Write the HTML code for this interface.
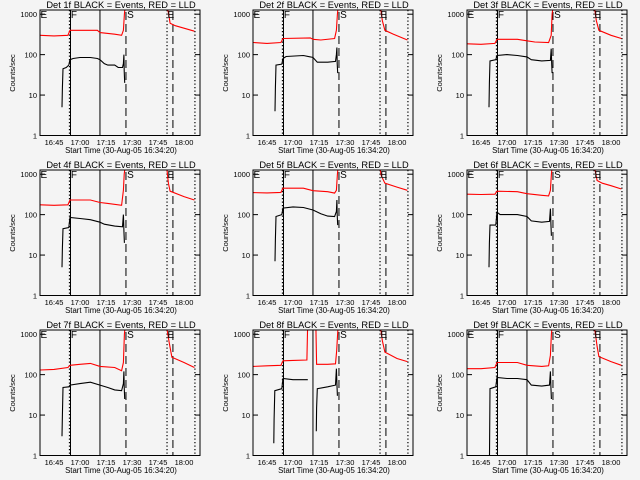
<!DOCTYPE html>
<html><head><meta charset="utf-8"><style>
html,body{margin:0;padding:0;background:#f4f4f4;}
svg{display:block;font-family:"Liberation Sans",sans-serif;}
</style></head><body>
<svg id="chart" width="640" height="480" viewBox="0 0 640 480"></svg>
<script>
// Time in minutes after 16:00; values in counts/sec
const xTickValues = [45, 60, 75, 90, 105, 120];
const xTickLabels = ["16:45", "17:00", "17:15", "17:30", "17:45", "18:00"];
const yTickValues = [1, 10, 100, 1000];
const yTickLabels = ["1", "10", "100", "1000"];
const panelTitles = ["Det 1f","Det 2f","Det 3f","Det 4f","Det 5f","Det 6f","Det 7f","Det 8f","Det 9f"];
const dottedTimes = [53.9, 110.2, 126.3];
const solidTimes = [54.5, 71.5];
const dashedTimes = [86.5, 113.6];
const markerLetters = ["E", "F", "S", "E"];
const markerTimes = [37.2, 54.7, 87.2, 110.5];

const red1a=[[37,300],[45,290],[53,300],[54.2,400],[70,400],[71.5,350],[80,320],[84,300],[85,400],[85.6,1000],[86,1500]];
const red1b=[[110.2,1500],[111,1100],[112,600],[115,520],[120,450],[126,380]];
const blk1=[[49.6,5],[49.8,15],[50.2,45],[52,48],[53.5,55],[54.2,75],[56,80],[60,85],[66,85],[70,80],[71.5,75],[74,60],[76,55],[80,55],[82,48],[84.5,48],[85,60],[85.3,100],[85.5,40],[85.8,20]];
const red2a=[[37,200],[45,190],[53,200],[54.2,250],[70,260],[71.5,240],[76,230],[84,250],[85,400],[85.6,1000],[86,1500]];
const red2b=[[110.5,1500],[111.5,700],[113,400],[118,320],[126,230]];
const blk2=[[49.6,4],[49.8,15],[50.2,55],[53.5,58],[54.2,80],[56,90],[66,95],[70,88],[71.5,85],[74,65],[80,65],[84.5,68],[85,100],[85.3,150],[85.5,60],[85.8,35]];
const red3a=[[37,185],[45,180],[53,190],[54.2,240],[66,240],[71.5,220],[76,205],[84,200],[85.5,300],[86,1000],[86.5,1500]];
const red3b=[[110.5,1500],[111.5,700],[113,400],[120,300],[126,250]];
const blk3=[[49.6,5],[49.8,20],[50.2,70],[53.5,75],[54.2,95],[60,100],[66,95],[71.5,88],[74,75],[80,70],[85,72],[85.5,140],[85.8,60],[86,35]];
const red4a=[[37,175],[45,170],[53,175],[54.2,230],[66,230],[71.5,200],[76,190],[84,170],[85,400],[85.5,1000],[86,1500]];
const red4b=[[110,1500],[111,600],[112,380],[120,280],[126,230]];
const blk4=[[49.6,5],[49.8,15],[50.2,45],[53.5,48],[54.2,85],[60,80],[66,75],[71.5,65],[74,58],[80,52],[84.5,50],[85,100],[85.3,40],[85.6,20]];
const red5a=[[37,350],[45,345],[53,355],[54.2,450],[66,450],[71.5,390],[80,370],[84,340],[85,400],[85.6,1000],[86,1500]];
const red5b=[[110,1500],[111,900],[113,600],[120,480],[126,400]];
const blk5=[[49.6,7],[49.8,25],[50.2,90],[53.5,100],[54.2,145],[60,155],[66,150],[71.5,130],[76,105],[80,92],[84,90],[85,120],[85.3,230],[85.5,100],[85.8,55]];
const red6a=[[37,320],[45,315],[53,320],[54.2,380],[66,370],[71.5,330],[80,300],[84,290],[85,400],[85.6,1000],[86,1500]];
const red6b=[[110.5,1500],[112,700],[115,600],[120,520],[126,430]];
const blk6=[[49.6,5],[49.8,20],[50.2,55],[53.5,55],[54.2,115],[56,100],[66,100],[71.5,90],[74,70],[80,65],[84.5,68],[85,140],[85.3,60],[85.6,30]];
const red7a=[[37,130],[45,135],[53,150],[54.2,170],[60,180],[66,190],[71.5,160],[80,150],[84,125],[85,200],[85.6,1000],[86,1500]];
const red7b=[[110,1500],[111.5,600],[113,270],[120,200],[126,150]];
const blk7=[[49.6,3],[49.8,10],[50.2,48],[53.5,50],[54.2,55],[60,60],[66,65],[71.5,55],[76,48],[80,42],[84,40],[85,60],[85.3,120],[85.5,50],[85.8,25]];
const red8a=[[37,160],[45,165],[53,170],[54.2,220],[60,225],[68,230],[68.4,1500],[73.2,1500],[73.6,180],[80,180],[84.5,185],[85.2,400],[85.7,1000],[86,1500]];
const red8b=[[110.5,1500],[111.5,700],[113,360],[120,250],[126,210]];
const blk8a=[[48.9,2],[49.1,8],[49.5,40],[53.5,45],[54.2,80],[60,75],[68.5,75]];
const blk8b=[[73.4,4],[73.6,15],[74,45],[80,50],[84.5,55],[85,140],[85.3,60],[85.6,30]];
const red9a=[[37,140],[45,140],[53,150],[54.2,200],[66,200],[71.5,170],[80,160],[84,165],[85,300],[85.6,1000],[86,1500]];
const red9b=[[110.5,1500],[112,500],[113,280],[120,210],[126,170]];
const blk9=[[49.6,1],[49.9,1],[50.2,45],[53.5,50],[54.2,85],[60,80],[66,80],[71.5,75],[74,55],[80,52],[84.5,55],[85,120],[85.3,50],[85.6,25]];

const redSeries=[[red1a,red1b],[red2a,red2b],[red3a,red3b],[red4a,red4b],[red5a,red5b],[red6a,red6b],[red7a,red7b],[red8a,red8b],[red9a,red9b]];
const blackSeries=[[blk1],[blk2],[blk3],[blk4],[blk5],[blk6],[blk7],[blk8a,blk8b],[blk9]];

const NS="http://www.w3.org/2000/svg";
const svg=document.getElementById('chart');
const colX=[0,213,427], rowY=[0,160,320];
const bx0=40,bx1=200,by0=10,by1=135.5;
const tMin=36.9, tMax=36.9+160/1.733;
const yTop=1270;
function mk(tag,attrs,parent){const e=document.createElementNS(NS,tag);for(const k in attrs)e.setAttribute(k,attrs[k]);parent.appendChild(e);return e;}

for(let p=0;p<9;p++){
  const ox=colX[p%3], oy=rowY[Math.floor(p/3)];
  const xs=t=>ox+bx0+(t-tMin)/(tMax-tMin)*(bx1-bx0);
  const ys=v=>oy+by1-Math.log10(v)/Math.log10(yTop)*(by1-by0);
  const g=mk('g',{},svg);
  
  
  const cid='clip'+p;
  const cp=mk('clipPath',{id:cid},g);
  mk('rect',{x:ox+bx0,y:oy+by0,width:bx1-bx0,height:by1-by0},cp);
  const title=mk('text',{x:ox+121,y:oy+8,'text-anchor':'middle','font-size':'9.3'},g);
  title.textContent=panelTitles[p]+" BLACK = Events, RED = LLD";
  
  
  yTickValues.forEach((v,i)=>{
    const y=ys(v);
    const tl=mk('text',{x:ox+bx0-3,y:y+3,'text-anchor':'end','font-size':'7.5'},g);
    tl.textContent=yTickLabels[i];
    
    
    mk('line',{x1:ox+bx0,x2:ox+bx0+5,y1:y,y2:y,stroke:'#000','stroke-width':1},g);
    mk('line',{x1:ox+bx1-5,x2:ox+bx1,y1:y,y2:y,stroke:'#000','stroke-width':1},g);
  });
  const yt=mk('text',{x:0,y:0,'text-anchor':'middle','font-size':'7.5',transform:`translate(${ox+15},${oy+73}) rotate(-90)`},g);
  yt.textContent="Counts/sec";
  
  
  xTickValues.forEach((v,i)=>{
    const tl=mk('text',{x:xs(v),y:oy+145,'text-anchor':'middle','font-size':'7.5'},g);
    tl.textContent=xTickLabels[i];
    
    
  });
  const xt=mk('text',{x:ox+121,y:oy+153,'text-anchor':'middle','font-size':'7.8'},g);
  xt.textContent="Start Time (30-Aug-05 16:34:20)";
  
  
  const cg=mk('g',{'clip-path':`url(#${cid})`},g);
  dottedTimes.forEach(t=>{const l=mk('line',{x1:xs(t),x2:xs(t),y1:oy+by0,y2:oy+by1,stroke:'#000','stroke-width':1.2,'stroke-dasharray':'1.2 2.3'},cg);
    });
  solidTimes.forEach(t=>{const l=mk('line',{x1:xs(t),x2:xs(t),y1:oy+by0,y2:oy+by1,stroke:'#000','stroke-width':1},cg);
    });
  dashedTimes.forEach(t=>{const l=mk('line',{x1:xs(t),x2:xs(t),y1:oy+by0,y2:oy+by1,stroke:'#000','stroke-width':1,'stroke-dasharray':'8 4','stroke-dashoffset':'-2'},cg);
    });
  markerLetters.forEach((s,i)=>{const tx=mk('text',{x:xs(markerTimes[i]),y:oy+by0+8,'font-size':'10'},g);tx.textContent=s;
    });
  const toPts=arr=>arr.map((pt,i)=>(i?'L':'M')+xs(pt[0]).toFixed(1)+' '+ys(pt[1]).toFixed(1)).join(' ');
  redSeries[p].forEach(s=>{const path=mk('path',{d:toPts(s),fill:'none',stroke:'#ff0000','stroke-width':1.1},cg);
    });
  blackSeries[p].forEach(s=>{const path=mk('path',{d:toPts(s),fill:'none',stroke:'#000','stroke-width':1.1},cg);
    });
  const box=mk('rect',{x:ox+bx0,y:oy+by0,width:bx1-bx0,height:by1-by0,fill:'none',stroke:'#000','stroke-width':1},g);
  
  
}
</script>
</body></html>
